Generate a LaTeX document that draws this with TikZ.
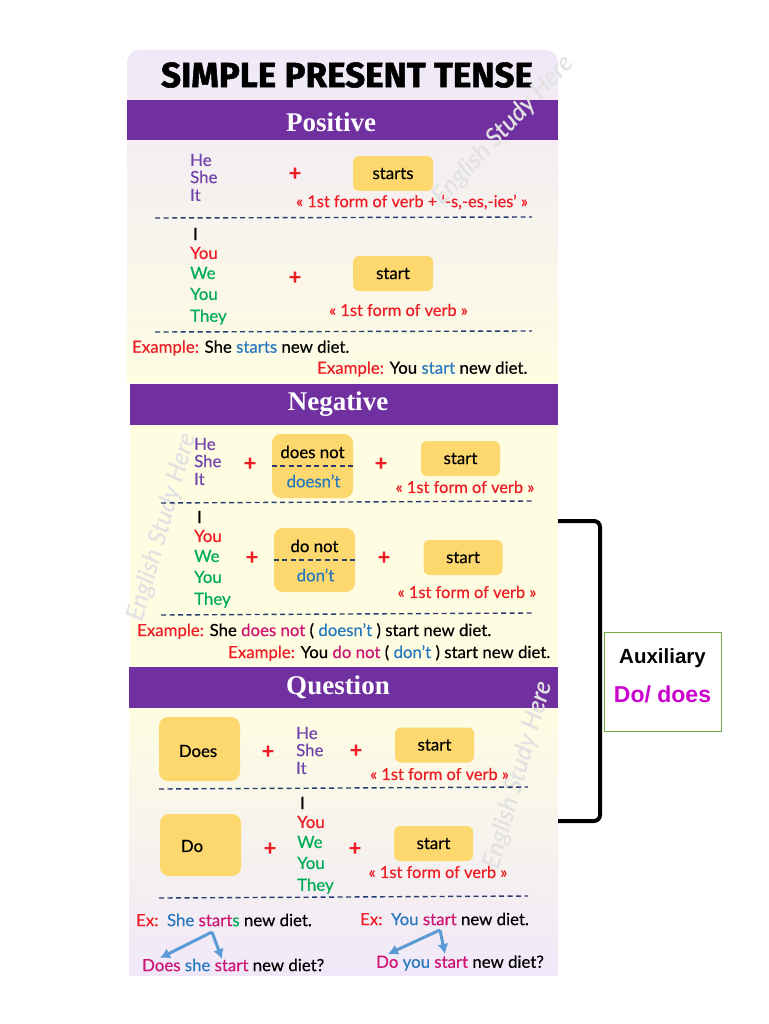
\documentclass[tikz,border=0pt]{standalone}
\usepackage{fontspec}
\setmainfont[FakeBold=0.35]{Lato}
\newfontfamily\titlefont[FakeBold=1.5]{Fira Sans Bold}
\newfontfamily\headfont{Liberation Serif}
\newfontfamily\arialfont{Liberation Sans}
\usepackage{tikz}
\usetikzlibrary{arrows.meta}

\definecolor{barpurple}{RGB}{112,48,160}
\definecolor{boxyellow}{RGB}{252,216,110}
\definecolor{lavender}{RGB}{240,232,249}
\definecolor{paleyellow}{RGB}{254,253,226}
\definecolor{pronpurple}{RGB}{112,68,170}
\definecolor{myred}{RGB}{238,28,37}
\definecolor{mygreen}{RGB}{0,172,85}
\definecolor{myblue}{RGB}{40,120,190}
\definecolor{mypink}{RGB}{205,20,115}
\definecolor{dashblue}{RGB}{40,60,110}
\definecolor{arrowblue}{RGB}{91,155,213}
\definecolor{markgray}{RGB}{226,226,226}

\tikzset{
  word/.style={anchor=west, inner sep=0pt, yshift=-1pt, font=\fontsize{16.8}{17}\selectfont},
  plainword/.style={inner sep=0pt, font=\fontsize{16.8}{17}\selectfont},
  verbbox/.style={fill=boxyellow, rounded corners=6pt, inner sep=0pt, font=\fontsize{16.8}{17}\selectfont},
  bartitle/.style={text=white, inner sep=0pt, font=\headfont\bfseries\fontsize{27}{27}\selectfont},
  plussign/.style={text=myred, inner sep=0pt, yshift=-1pt, font=\bfseries\fontsize{22}{22}\selectfont},
  verbform/.style={text=myred, inner sep=0pt, font=\fontsize{16.4}{17}\selectfont},
  sepline/.style={dash pattern=on 5pt off 3.5pt, dashblue, line width=1.4pt},
  waterword/.style={text=markgray, inner sep=0pt, font=\itshape\fontsize{25}{25}\selectfont},
  bluearrow/.style={arrowblue, line width=3pt, -{Latex[length=10pt,width=11pt]}},
}

% Stacks of pronouns, placed with a shift
\newcommand{\thirdstack}{
  \node[word, text=pronpurple] (he) at (0,0) {He};
  \node[word, text=pronpurple] (she) at (0,17) {She};
  \node[word, text=pronpurple] (it) at (0,35) {It};
}
\newcommand{\otherstack}{
  \node[word] (i) at (3,0) {I};
  \node[word, text=myred] (you) at (0,19) {You};
  \node[word, text=mygreen] (we) at (0,39) {We};
  \node[word, text=mygreen] (youpl) at (0,60) {You};
  \node[word, text=mygreen] (they) at (0,83) {They};
}
% Auxiliary box split in two by a dashed line
\newcommand{\auxbox}[2]{
  \node[verbbox, rounded corners=9pt, minimum width=81pt, minimum height=64pt] (box) at (0,0) {};
  \node[plainword] (long) at (0,-14) {#1};
  \node[plainword, text=myblue] (short) at (1,15) {#2};
  \draw[sepline, line width=1.2pt] (box.west) -- (box.east);
}

\begin{document}
\begin{tikzpicture}[x=1pt, y=-1pt]
\useasboundingbox (0,0) rectangle (768,1024);

% Panels behind the text
\shade[top color=lavender, bottom color=paleyellow]
  (127,383) -- (127,62) arc (180:90:12pt) -- (546,50) arc (90:0:12pt) -- (558,383) -- cycle;
\fill[paleyellow] (130,425) rectangle (558,668);
\shade[top color=paleyellow, bottom color=lavender] (129,708) rectangle (558,975);

% Title and the three bars
\node[inner sep=0pt, font=\titlefont\fontsize{35}{35}\selectfont] (title) at (347,75) {SIMPLE PRESENT TENSE};
\fill[barpurple] (127,100) rectangle (558,140);
\node[bartitle] (positive) at (331,122) {Positive};
\fill[barpurple] (130,384) rectangle (558,425);
\node[bartitle] (negative) at (338,404) {Negative};
\fill[barpurple] (129,667) rectangle (558,708);
\node[bartitle] (question) at (338,687) {Question};

% Watermarks
\node[waterword, rotate=47] (markA) at (503,130) {English Study Here};
\node[waterword, rotate=74] (markB) at (162,527) {English Study Here};
\node[waterword, rotate=74] (markC) at (518,775) {English Study Here};

% Positive
\begin{scope}[shift={(190,159)}, name prefix=posa-]
  \thirdstack
\end{scope}
\begin{scope}[shift={(190,233)}, name prefix=posb-]
  \otherstack
\end{scope}
\node[plussign] (plusA) at (295,173) {+};
\node[plussign] (plusB) at (295,277) {+};
\node[verbbox, minimum width=80pt, minimum height=35pt] (boxA) at (393,173.5) {starts};
\node[verbbox, minimum width=80pt, minimum height=35pt] (boxB) at (393,273.5) {start};
\node[verbform] (formA) at (412,202) {« 1st form of verb + ‘-s,-es,-ies’ »};
\node[verbform] (formB) at (398.5,310) {« 1st form of verb »};
\coordinate (lineAa) at (155,218);
\coordinate (lineAb) at (532,217);
\coordinate (lineBa) at (155,332);
\coordinate (lineBb) at (532,331);
\draw[sepline] (lineAa) -- (lineAb);
\draw[sepline] (lineBa) -- (lineBb);
\node[word] (exA) at (132,347) {\textcolor{myred}{Example:} She \textcolor{myblue}{starts} new diet.};
\node[word] (exB) at (317,368) {\textcolor{myred}{Example:} You \textcolor{myblue}{start} new diet.};

% Negative
\begin{scope}[shift={(194,443)}, name prefix=nega-]
  \thirdstack
\end{scope}
\begin{scope}[shift={(194,516)}, name prefix=negb-]
  \otherstack
\end{scope}
\node[plussign] (plusC) at (250,463) {+};
\node[plussign] (plusD) at (381,463) {+};
\begin{scope}[shift={(312.5,466)}, name prefix=auxa-]
  \auxbox{does not}{doesn’t}
\end{scope}
\node[verbbox, minimum width=79pt, minimum height=35pt] (boxC) at (460.5,458.5) {start};
\node[verbform] (formC) at (465,487) {« 1st form of verb »};
\coordinate (lineCa) at (161,503);
\coordinate (lineCb) at (533,501);
\draw[sepline] (lineCa) -- (lineCb);
\node[plussign] (plusE) at (252,557) {+};
\node[plussign] (plusF) at (384,557) {+};
\begin{scope}[shift={(314.5,560)}, name prefix=auxb-]
  \auxbox{do not}{don’t}
\end{scope}
\node[verbbox, minimum width=79pt, minimum height=35pt] (boxD) at (463,557.5) {start};
\node[verbform] (formD) at (467,592) {« 1st form of verb »};
\coordinate (lineDa) at (161,615);
\coordinate (lineDb) at (533,613);
\draw[sepline] (lineDa) -- (lineDb);
\node[word] (exC) at (137,630) {\textcolor{myred}{Example:} She \textcolor{mypink}{does not} ( \textcolor{myblue}{doesn’t} ) start new diet.};
\node[word] (exD) at (228,652) {\textcolor{myred}{Example:} You \textcolor{mypink}{do not} ( \textcolor{myblue}{don’t} ) start new diet.};

% Question
\node[verbbox, rounded corners=9pt, minimum width=81pt, minimum height=64pt] (boxE) at (199.5,749) {};
\node[plainword] (does) at (198,751) {Does};
\node[plussign] (plusG) at (268,751) {+};
\begin{scope}[shift={(296,732)}, name prefix=quea-]
  \thirdstack
\end{scope}
\node[plussign] (plusH) at (356,750) {+};
\node[verbbox, minimum width=79pt, minimum height=35pt] (boxF) at (434.5,745) {start};
\node[verbform] (formE) at (439.5,774) {« 1st form of verb »};
\coordinate (lineEa) at (159,789);
\coordinate (lineEb) at (528,787);
\draw[sepline] (lineEa) -- (lineEb);
\node[verbbox, rounded corners=9pt, minimum width=81pt, minimum height=62pt] (boxG) at (200.5,845) {};
\node[plainword] (do) at (192,846) {Do};
\node[plussign] (plusI) at (270,848) {+};
\begin{scope}[shift={(297,802)}, name prefix=queb-]
  \otherstack
\end{scope}
\node[plussign] (plusJ) at (355,848) {+};
\node[verbbox, minimum width=79pt, minimum height=35pt] (boxH) at (433.5,843.5) {start};
\node[verbform] (formF) at (438,872) {« 1st form of verb »};
\coordinate (lineFa) at (159,898);
\coordinate (lineFb) at (528,896);
\draw[sepline] (lineFa) -- (lineFb);
\node[word] (exE) at (136,919) {\textcolor{myred}{Ex:}\ \ \textcolor{myblue}{She} \textcolor{mypink}{start}\textcolor{mygreen}{s} new diet.};
\node[word] (exF) at (360,918) {\textcolor{myred}{Ex:}\ \ \textcolor{myblue}{You} \textcolor{mypink}{start} new diet.};
\node[word] (qA) at (142,964) {\textcolor{mypink}{Does} \textcolor{myblue}{she} \textcolor{mypink}{start} new diet?};
\node[word] (qB) at (376,962) {\textcolor{mypink}{Do} \textcolor{myblue}{you} \textcolor{mypink}{start} new diet?};

% Arrows from the sentence to the question
\coordinate (peakA) at (212,932);
\coordinate (tipAa) at (160,958);
\coordinate (tipAb) at (222,959);
\coordinate (peakB) at (440,930);
\coordinate (tipBa) at (388,954);
\coordinate (tipBb) at (445,954);
\draw[bluearrow] (peakA) -- (tipAa);
\draw[bluearrow] (peakA) -- (tipAb);
\draw[bluearrow] (peakB) -- (tipBa);
\draw[bluearrow] (peakB) -- (tipBb);

% Bracket and the note beside it
\node[draw={rgb,255:red,112;green,173;blue,71}, line width=1pt, fill=white, minimum width=117pt, minimum height=99pt, inner sep=0pt] (note) at (662.5,681.5) {};
\node[inner sep=0pt, font=\arialfont\bfseries\fontsize{20.5}{21}\selectfont] (aux) at (662.5,658) {Auxiliary};
\node[inner sep=0pt, text={rgb,255:red,204;green,0;blue,204}, font=\arialfont\bfseries\fontsize{23}{24}\selectfont] (dodoes) at (662.5,694.5) {Do/ does};
\coordinate (bracketA) at (558,521);
\coordinate (bracketB) at (600,521);
\coordinate (bracketC) at (600,821);
\coordinate (bracketD) at (558,821);
\draw[line width=4pt, rounded corners=6pt] (bracketA) -- (bracketB) -- (bracketC) -- (bracketD);

\end{tikzpicture}
\end{document}
